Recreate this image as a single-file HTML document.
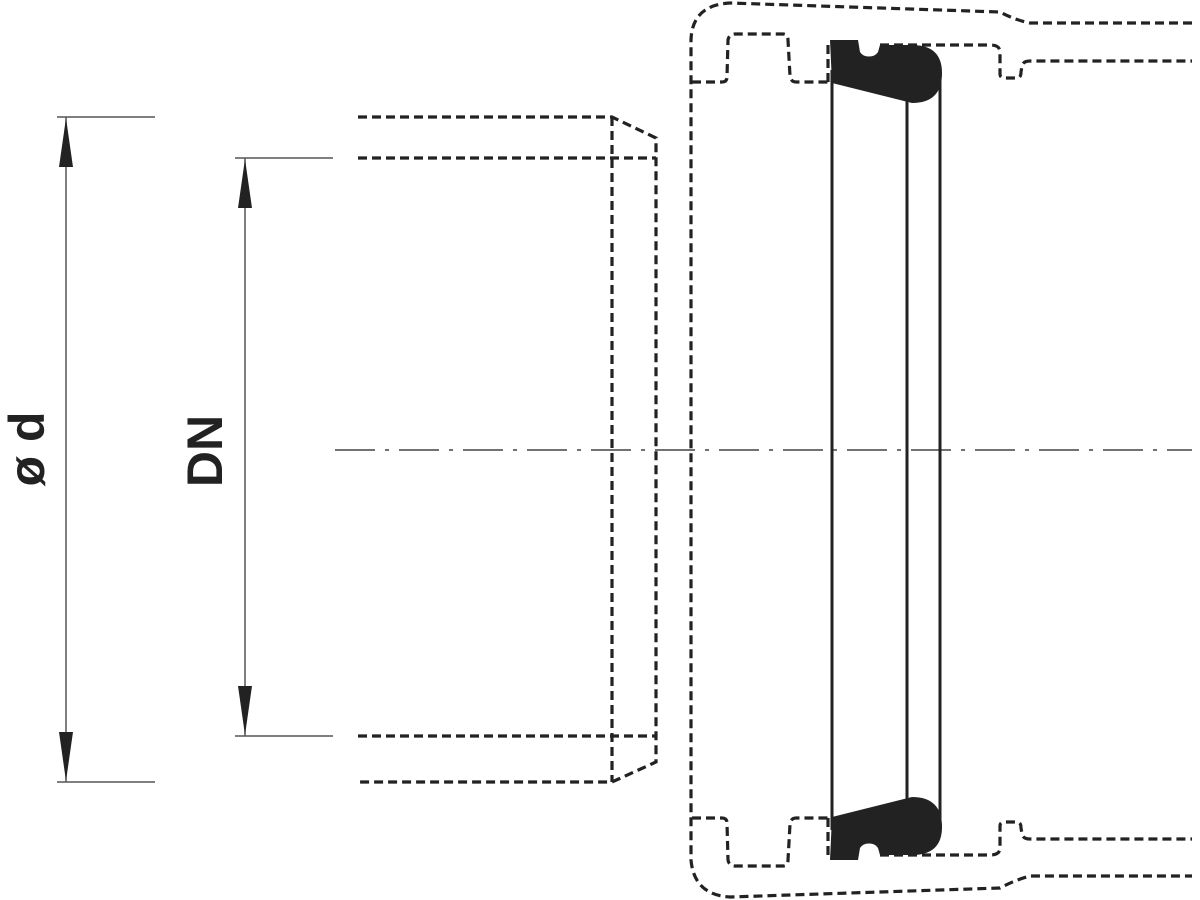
<!DOCTYPE html>
<html><head><meta charset="utf-8"><style>html,body{margin:0;padding:0;background:#fff}svg{display:block}</style></head>
<body>
<svg width="1200" height="900" viewBox="0 0 1200 900" xmlns="http://www.w3.org/2000/svg">
<g stroke="#555" stroke-width="1.5" fill="none">
<line x1="57" y1="117" x2="155" y2="117"/><line x1="57" y1="782" x2="155" y2="782"/>
<line x1="66" y1="117" x2="66" y2="782"/>
<line x1="235" y1="158" x2="333" y2="158"/><line x1="235" y1="736" x2="333" y2="736"/>
<line x1="245" y1="158" x2="245" y2="736"/>
</g>
<g fill="#222">
<polygon points="66,118 59,167 73,167"/><polygon points="66,781 59,732 73,732"/>
<polygon points="245,159 238,208 252,208"/><polygon points="245,735 238,686 252,686"/>
</g>
<g font-family="Liberation Sans, sans-serif" font-weight="bold" font-size="50" fill="#222" text-anchor="middle">
<text transform="translate(44,449) rotate(-90)">ø d</text>
<text transform="translate(222,451) rotate(-90)">DN</text>
</g>
<line x1="335" y1="450" x2="1192" y2="450" stroke="#444" stroke-width="1.5" stroke-dasharray="40,10,4,10"/>
<g stroke="#222" stroke-width="3.2" fill="none" stroke-dasharray="9,5">
<path d="M358,117 L612,117 L656,138 L656,762 L612,782 L358,782"/>
<path d="M358,158 L656,158"/><path d="M358,736 L656,736"/>
<path d="M612,117 L612,782"/>
<path d="M1192,23 L1030,23 Q1015,20 1000,12 L730,3 Q692,5 691,40 L691,860 Q694,895 730,897 L1000,888 Q1015,880 1030,876 L1192,876"/>
<g id="top">
<path d="M692,82 L722,82 Q727,82 727,77 L728,40 Q729,34 735,34 L783,34 Q788,34 788,40 L790,76 Q791,82 796,82 L828,82"/>
<path d="M828,82 L828,40"/>
<path d="M880,45 L990,45 Q1000,45 1000,52 L1000,74 Q1000,78 1005,78 L1017,78 Q1021,78 1021,72 L1022,66 Q1023,61 1030,61 L1192,61"/>
</g>
<use href="#top" transform="matrix(1,0,0,-1,0,900)"/>
</g>
<g id="seal" fill="#222">
<path d="M830,40 L858,40 L860,52 A10,8 0 0 0 878,52 L880,45 L912,45 Q942,45 942,73 Q942,103 912,103 L832,83 Z"/>
</g>
<use href="#seal" transform="matrix(1,0,0,-1,0,900)"/>
<g stroke="#222" stroke-width="3">
<line x1="832" y1="70" x2="832" y2="830"/>
<line x1="907" y1="90" x2="907" y2="810"/>
<line x1="940" y1="70" x2="940" y2="830"/>
</g>
</svg>
</body></html>
